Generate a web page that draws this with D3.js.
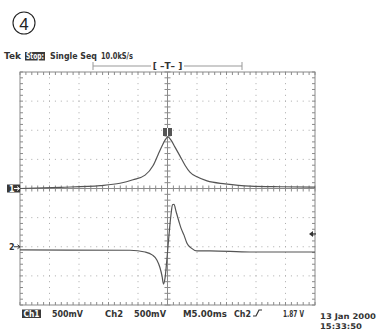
<!DOCTYPE html>
<html><head><meta charset="utf-8">
<script src="https://cdn.jsdelivr.net/npm/d3@7"></script>
<style>body{margin:0;background:#fff}svg{display:block}text{font-family:"DejaVu Sans",sans-serif}</style>
</head><body>
<script>
// ---- data ----
const ch1Time  = [-25,-18.2,-11.4,-8.05,-5.85,-3.8,-2.46,-1.6,-0.93,-0.42,0.08,0.6,1.27,2.1,2.97,3.8,5.0,6.7,9.75,14,19.1,25];
const ch1Volts = [0.0,0.02,0.05,0.09,0.15,0.23,0.39,0.58,0.73,0.83,0.885,0.83,0.71,0.56,0.40,0.28,0.20,0.13,0.08,0.04,0.03,0.025];
const ch2Time  = [-25,-6.36,-3.8,-2.6,-1.78,-1.27,-0.93,-0.68,-0.42,-0.08,0.25,0.59,0.85,1.1,1.44,1.95,2.29,2.8,3.3,3.98,5.0,7.2,14,25];
const ch2Volts = [-0.055,-0.06,-0.09,-0.14,-0.23,-0.36,-0.50,-0.64,-0.54,-0.19,0.20,0.55,0.72,0.73,0.61,0.43,0.32,0.20,0.06,-0.02,-0.07,-0.07,-0.09,-0.09];
const timeDomain = [-25, 25];      // ms, 5 ms/div
const divDomain = [-4, 4];
const voltsPerDiv = 0.5;
const ch1Position = 0;
const ch2Position = -2;
const trigLevelCh2 = 0.22;
const headerTexts = ["Tek", "Stop:", "Single Seq", "10.0kS/s"];
const footerTexts = ["Ch1", "500mV", "Ch2", "500mV", "M5.00ms", "Ch2", "1.87 V"];
const dateTexts = ["13 Jan 2000", "15:33:50"];

// ---- drawing ----
const W = 380, H = 331;
const svg = d3.select("body").append("svg").attr("width", W).attr("height", H);
const x = d3.scaleLinear().domain(timeDomain).range([20, 315]);
const yd = d3.scaleLinear().domain(divDomain).range([305, 72]);
const gridCol = "#8a8a8a", traceCol = "#555", dark = "#3a3a3a", txtCol = "#333";

function label(parent, str, px, py, len, opts = {}) {
  const t = parent.append("text").attr("x", px).attr("y", py)
    .attr("font-size", opts.size || 8.6).attr("font-weight", "bold")
    .attr("fill", opts.fill || txtCol).text(str);
  if (len) t.attr("textLength", len).attr("lengthAdjust", "spacingAndGlyphs");
  return t;
}

// circled 4
svg.append("circle").attr("cx", 24).attr("cy", 23).attr("r", 11).attr("fill", "none").attr("stroke", "#222").attr("stroke-width", 1.1);
svg.append("text").attr("x", 24).attr("y", 29.5).attr("text-anchor", "middle").attr("font-size", 17).attr("fill", "#222").style("font-family", "Liberation Sans, sans-serif").text("4");

// header
svg.append("rect").attr("x", 25).attr("y", 52).attr("width", 20).attr("height", 8.5).attr("fill", dark);
label(svg, headerTexts[0], 4, 59, 17);
label(svg, headerTexts[1], 26, 59, 18, {fill: "#fff", size: 8});
label(svg, headerTexts[2], 50, 59, 47);
label(svg, headerTexts[3], 101, 59, 32);

// record bar
const rb = svg.append("g").attr("stroke", "#999").attr("fill", "none");
rb.append("line").attr("x1", 93).attr("x2", 242).attr("y1", 66).attr("y2", 66);
rb.append("line").attr("x1", 93).attr("x2", 93).attr("y1", 62).attr("y2", 70);
rb.append("line").attr("x1", 242).attr("x2", 242).attr("y1", 62).attr("y2", 70);
svg.append("rect").attr("x", 151).attr("y", 60).attr("width", 33).attr("height", 11).attr("fill", "#fff");
svg.append("text").attr("x", 167.5).attr("y", 69).attr("text-anchor", "middle").attr("font-size", 9).attr("fill", txtCol).attr("font-weight", "bold").text("[ \u2013T\u2013 ]");

// graticule
const g = svg.append("g");
const xDivs = d3.range(0, 11).map(i => timeDomain[0] + i * 5);
const yDivs = d3.range(-4, 5);
const minorX = d3.range(0, 51).map(i => timeDomain[0] + i * 1);
const minorY = d3.range(0, 41).map(i => -4 + i * 0.2);
xDivs.slice(1, -1).forEach(t => {
  if (t === 0) return;
  minorY.forEach(v => g.append("rect").attr("x", x(t) - 0.5).attr("y", yd(v) - 0.5).attr("width", 1).attr("height", 1).attr("fill", "#aaa"));
});
yDivs.slice(1, -1).forEach(v => {
  if (v === 0) return;
  minorX.forEach(t => g.append("rect").attr("x", x(t) - 0.5).attr("y", yd(v) - 0.5).attr("width", 1).attr("height", 1).attr("fill", "#aaa"));
});
g.append("rect").attr("x", x(-25)).attr("y", yd(4)).attr("width", x(25) - x(-25)).attr("height", yd(-4) - yd(4))
  .attr("fill", "none").attr("stroke", gridCol).attr("stroke-width", 1);
minorX.forEach(t => {
  g.append("line").attr("x1", x(t)).attr("x2", x(t)).attr("y1", yd(4)).attr("y2", yd(4) + 3).attr("stroke", gridCol);
  g.append("line").attr("x1", x(t)).attr("x2", x(t)).attr("y1", yd(-4)).attr("y2", yd(-4) - 3).attr("stroke", gridCol);
  g.append("line").attr("x1", x(t)).attr("x2", x(t)).attr("y1", yd(0) - 3).attr("y2", yd(0) + 3).attr("stroke", gridCol);
});
minorY.forEach(v => {
  g.append("line").attr("x1", x(-25)).attr("x2", x(-25) + 3).attr("y1", yd(v)).attr("y2", yd(v)).attr("stroke", gridCol);
  g.append("line").attr("x1", x(25)).attr("x2", x(25) - 3).attr("y1", yd(v)).attr("y2", yd(v)).attr("stroke", gridCol);
  g.append("line").attr("x1", x(0) - 3).attr("x2", x(0) + 3).attr("y1", yd(v)).attr("y2", yd(v)).attr("stroke", gridCol);
});
g.append("line").attr("x1", x(-25)).attr("x2", x(25)).attr("y1", yd(0)).attr("y2", yd(0)).attr("stroke", gridCol);
g.append("line").attr("x1", x(0)).attr("x2", x(0)).attr("y1", yd(4)).attr("y2", yd(-4)).attr("stroke", gridCol);

// traces
const y1 = v => yd(v / voltsPerDiv + ch1Position);
const y2 = v => yd(v / voltsPerDiv + ch2Position);
const line1 = d3.line().x(d => x(d[0])).y(d => y1(d[1])).curve(d3.curveMonotoneX);
const line2 = d3.line().x(d => x(d[0])).y(d => y2(d[1])).curve(d3.curveMonotoneX);
svg.append("path").attr("d", line1(d3.zip(ch1Time, ch1Volts))).attr("fill", "none").attr("stroke", traceCol).attr("stroke-width", 1.2);
svg.append("path").attr("d", line2(d3.zip(ch2Time, ch2Volts))).attr("fill", "none").attr("stroke", traceCol).attr("stroke-width", 1.2);

// trigger position marker
svg.append("rect").attr("x", x(0) - 4.5).attr("y", 128).attr("width", 9).attr("height", 8).attr("fill", "#555");
svg.append("line").attr("x1", x(0)).attr("x2", x(0)).attr("y1", 128).attr("y2", 136).attr("stroke", "#fff");

// channel markers
const c1y = y1(0), c2y = y2(0);
svg.append("rect").attr("x", 7).attr("y", c1y - 4).attr("width", 13).attr("height", 8).attr("fill", dark);
label(svg, "1", 9, c1y + 3, null, {fill: "#fff", size: 8});
svg.append("path").attr("d", `M14,${c1y} L19,${c1y} M17,${c1y - 2} L19.5,${c1y} L17,${c1y + 2}`).attr("stroke", "#fff").attr("fill", "none");
label(svg, "2", 9, c2y + 3, null, {size: 8});
svg.append("path").attr("d", `M14,${c2y} L20,${c2y} M17.5,${c2y - 2} L20,${c2y} L17.5,${c2y + 2}`).attr("stroke", txtCol).attr("fill", "none");
// trigger level arrow
const ty = y2(trigLevelCh2);
svg.append("path").attr("d", `M309,${ty} L313,${ty - 3} L313,${ty + 3} Z`).attr("fill", txtCol);
svg.append("line").attr("x1", 312).attr("x2", 316).attr("y1", ty).attr("y2", ty).attr("stroke", txtCol).attr("stroke-width", 1.2);

// footer
svg.append("rect").attr("x", 22).attr("y", 309.5).attr("width", 19).attr("height", 8.5).attr("fill", dark);
label(svg, footerTexts[0], 23.5, 317, 16, {fill: "#fff"});
label(svg, footerTexts[1], 52, 317, 31);
label(svg, footerTexts[2], 105, 317, 18);
label(svg, footerTexts[3], 134, 317, 32);
label(svg, footerTexts[4], 183, 317, 44);
label(svg, footerTexts[5], 234, 317, 17);
svg.append("path").attr("d", "M253,316 L256,316 L259,310 L262,310").attr("stroke", txtCol).attr("fill", "none").attr("stroke-width", 1.2);
label(svg, footerTexts[6], 283, 317, 21);
label(svg, dateTexts[0], 320, 319, 56, {size: 7.8});
label(svg, dateTexts[1], 320, 328.5, 42, {size: 7.8});
</script>
</body></html>
